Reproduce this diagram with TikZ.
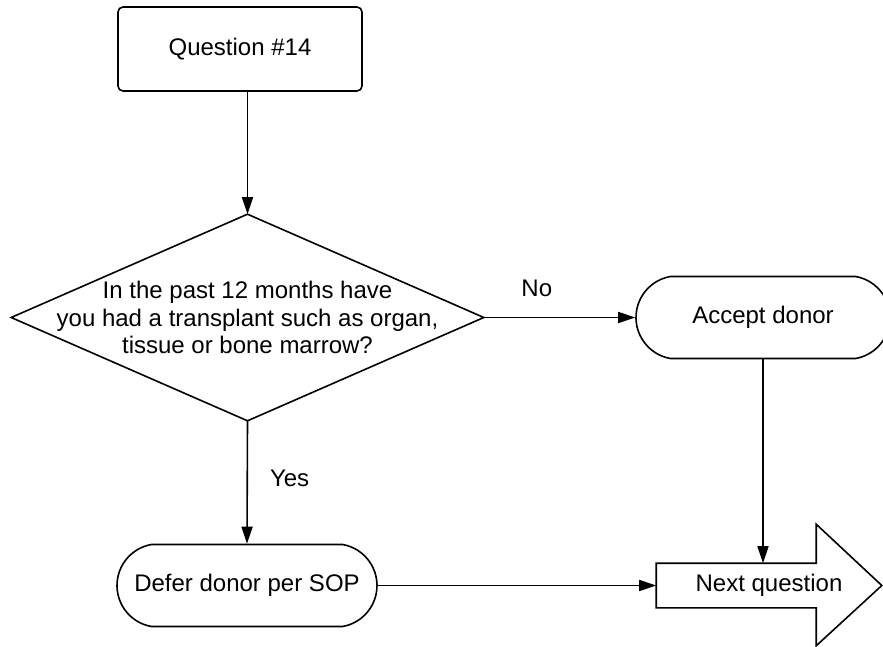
\documentclass[tikz,border=0pt]{standalone}
\usepackage{fontspec}
\setmainfont{Liberation Sans}
\usetikzlibrary{arrows.meta,shapes.misc,calc}

\tikzset{
  base/.style={line width=1.6pt, font=\fontsize{24}{27.5}\selectfont, inner sep=0pt},
  startbox/.style={base, draw, rectangle, rounded corners=5pt,
    minimum width=244pt, minimum height=84pt},
  termbox/.style={base, draw, rounded rectangle, rounded rectangle arc length=160,
    minimum height=82pt},
  plainbox/.style={base, rectangle, align=center},
  lbl/.style={font=\fontsize{24}{27.5}\selectfont, inner sep=0pt},
  flow/.style={line width=1.6pt, -{Triangle[length=17pt,width=11pt]}},
  outline/.style={line width=1.6pt, line join=miter}
}

\begin{document}
\begin{tikzpicture}[x=1pt, y=-1pt]
  \useasboundingbox (0,0) rectangle (883,647);
  \clip (0,0) rectangle (883,647);

  % start of the question
  \node[startbox] (q) at (240,49) {Question \#14};

  % decision
  \node[plainbox, minimum width=471pt, minimum height=205pt] (d) at (247.5,317.5)
    {In the past 12 months have\\you had a transplant such as organ,\\tissue or bone marrow?};
  \draw[outline] (d.north) -- (d.east) -- (d.south) -- (d.west) -- cycle;

  % outcomes
  \node[termbox, minimum width=254pt] (acc) at (763,317.5) {Accept donor};
  \node[termbox, minimum width=260pt] (def) at (247,585.5) {Defer donor per SOP};

  % next-question block arrow
  \node[plainbox, minimum width=224pt, minimum height=43pt] (nx) at (769,585.5) {Next question};
  \draw[outline] (nx.south west) -- (nx.north west) -- ++(160,0) -- ++(0,-39)
    -- (nx.east) -- ($(nx.south west)+(160,38)$) -- ++(0,-38) -- cycle;

  % connectors
  \draw[flow] (d.north |- q.south) -- (d.north);
  \draw[flow] (d.east) -- node[lbl, pos=0.35, above=20pt] (no) {No} (acc.west);
  \draw[flow] (d.south) -- node[lbl, pos=0.47, right=22pt] (yes) {Yes} (def.north);
  \draw[flow] (def.east) -- (nx.west);
  \draw[flow] (acc.south) -- (acc.south |- nx.north);
\end{tikzpicture}
\end{document}
